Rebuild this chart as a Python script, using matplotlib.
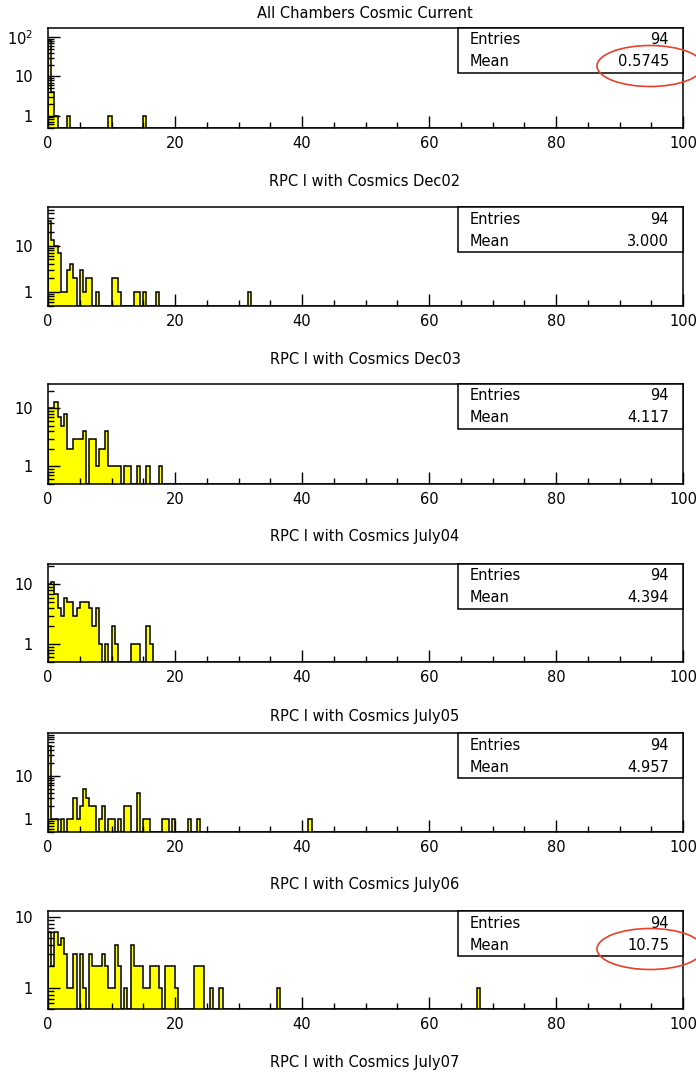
import matplotlib.pyplot as plt
import matplotlib.patches as mpatches
import matplotlib.ticker as mticker
import numpy as np

plt.rcParams['font.family'] = 'DejaVu Sans'
plt.rcParams['mathtext.default'] = 'regular'

# histogram binning: 200 bins of 0.5 from 0 to 100
bin_edges = np.arange(0, 100.5, 0.5)

main_title = 'All Chambers Cosmic Current'
run_labels = ['RPC I with Cosmics Dec02', 'RPC I with Cosmics Dec03',
              'RPC I with Cosmics July04', 'RPC I with Cosmics July05',
              'RPC I with Cosmics July06', 'RPC I with Cosmics July07']
entries = [94, 94, 94, 94, 94, 94]
means = ['0.5745', '3.000', '4.117', '4.394', '4.957', '10.75']
circled = [True, False, False, False, False, True]

# non-empty bins: {bin low edge: count}
dec02 = {0.0: 86, 0.5: 4, 1.0: 1, 3.0: 1, 9.5: 1, 15.0: 1}
dec03 = {0.0: 34, 0.5: 13, 1.0: 10, 1.5: 7, 2.0: 1, 2.5: 1, 3.0: 3, 3.5: 4,
         4.0: 2, 5.0: 3, 5.5: 1, 6.0: 2, 6.5: 2, 7.5: 1, 10.0: 2, 10.5: 2,
         11.0: 1, 13.5: 1, 14.0: 1, 15.0: 1, 17.0: 1, 31.5: 1}
july04 = {0.0: 10, 0.5: 10, 1.0: 13, 1.5: 7, 2.0: 5, 2.5: 8, 3.0: 2, 3.5: 2,
          4.0: 3, 4.5: 3, 5.0: 3, 5.5: 4, 6.5: 3, 7.0: 3, 7.5: 1, 8.0: 2,
          8.5: 2, 9.0: 4, 9.5: 1, 10.0: 1, 10.5: 1, 11.0: 1, 12.0: 1,
          12.5: 1, 14.0: 1, 15.5: 1, 17.5: 1}
july05 = {0.0: 10, 0.5: 11, 1.0: 7, 1.5: 4, 2.0: 3, 2.5: 6, 3.0: 5, 3.5: 5,
          4.0: 3, 4.5: 4, 5.0: 5, 5.5: 5, 6.0: 5, 6.5: 4, 7.0: 2, 7.5: 4,
          8.0: 1, 9.0: 1, 10.0: 2, 10.5: 1, 13.0: 1, 13.5: 1, 14.0: 1,
          15.5: 2, 16.0: 1}
july06 = {0.0: 49, 0.5: 1, 1.0: 1, 2.0: 1, 3.0: 1, 3.5: 1, 4.0: 3, 4.5: 1,
          5.0: 2, 5.5: 5, 6.0: 3, 6.5: 2, 7.0: 2, 8.0: 1, 8.5: 2, 9.5: 1,
          10.0: 1, 11.0: 1, 12.0: 2, 12.5: 2, 14.0: 4, 15.0: 1, 15.5: 1,
          18.0: 1, 18.5: 1, 19.5: 1, 22.0: 1, 23.5: 1, 41.0: 1}
july07 = {0.0: 6, 0.5: 2, 1.0: 6, 1.5: 4, 2.0: 5, 2.5: 3, 3.0: 1, 3.5: 1,
          4.0: 3, 5.0: 3, 5.5: 1, 6.5: 3, 7.0: 2, 7.5: 2, 8.0: 2, 8.5: 3,
          9.0: 2, 9.5: 1, 10.0: 1, 10.5: 4, 11.0: 2, 12.0: 1, 13.0: 4,
          13.5: 2, 14.0: 2, 14.5: 2, 15.0: 1, 15.5: 1, 16.0: 2, 16.5: 2,
          17.0: 2, 17.5: 1, 18.5: 2, 19.0: 2, 19.5: 2, 20.0: 1, 23.0: 2,
          23.5: 2, 24.0: 2, 25.5: 1, 27.0: 1, 36.0: 1, 67.5: 1}
datasets = [dec02, dec03, july04, july05, july06, july07]

W, H = 696, 1073
# frame top / bottom of every pad in pixels
frames = [(28, 127.5), (207, 305.7), (384, 484), (564, 662), (733, 832), (911, 1009)]
label_y = [181, 359, 537, 716, 884, 1063]
x_left, x_right = 48, 683

fig = plt.figure(figsize=(W / 100, H / 100), dpi=100)
fig.text(365 / W, 1 - 14 / H, main_title, ha='center', va='center', fontsize=10.5)

for k, data in enumerate(datasets):
    top, bot = frames[k]
    ax = fig.add_axes([x_left / W, 1 - bot / H, (x_right - x_left) / W, (bot - top) / H])

    counts = np.zeros(len(bin_edges) - 1)
    for lo, n in data.items():
        counts[int(round(lo * 2))] = n

    ymin = 0.5
    ymax = 2 * counts.max()
    vals = np.where(counts > 0, counts, ymin)
    ax.stairs(vals, bin_edges, baseline=ymin, fill=True, color='#ffff00', lw=0)
    ax.stairs(vals, bin_edges, baseline=ymin, color='black', lw=1.1)

    ax.set_yscale('log')
    ax.set_xlim(0, 100)
    ax.set_ylim(ymin, ymax)
    ax.xaxis.set_major_locator(mticker.MultipleLocator(20))
    ax.xaxis.set_minor_locator(mticker.MultipleLocator(5))
    ax.yaxis.set_major_locator(mticker.LogLocator(base=10))
    ax.yaxis.set_minor_locator(mticker.LogLocator(base=10, subs=np.arange(2, 10)))
    ax.yaxis.set_minor_formatter(mticker.NullFormatter())
    ax.yaxis.set_major_formatter(mticker.FuncFormatter(
        lambda v, p: {1: '1', 10: '10', 100: '$10^2$'}.get(int(round(v)), '')))
    ax.tick_params(which='both', direction='in', top=False, right=False,
                   labelsize=10.5, width=1, color='black')
    ax.tick_params(which='major', length=8.5)
    ax.tick_params(which='minor', length=4.3)
    ax.tick_params(axis='x', pad=6)
    ax.tick_params(axis='y', pad=11)
    for s in ax.spines.values():
        s.set_linewidth(1.1)

    # stats box
    hpx = bot - top
    box = mpatches.Rectangle(((458 - x_left) / (x_right - x_left), 1 - 45 / hpx),
                             (x_right - 458) / (x_right - x_left), 45 / hpx,
                             transform=ax.transAxes, facecolor='white',
                             edgecolor='black', lw=1.1, zorder=5, clip_on=False)
    ax.add_patch(box)
    xl = (470 - x_left) / (x_right - x_left)
    xr = (669 - x_left) / (x_right - x_left)
    for row, (name, val) in enumerate([('Entries', str(entries[k])), ('Mean', means[k])]):
        yy = 1 - (12 + 22 * row) / hpx
        ax.text(xl, yy, name, transform=ax.transAxes, ha='left', va='center',
                fontsize=10.5, zorder=6)
        ax.text(xr, yy, val, transform=ax.transAxes, ha='right', va='center',
                fontsize=10.5, zorder=6)

    fig.text(365 / W, 1 - label_y[k] / H, run_labels[k], ha='center', va='center',
             fontsize=10.5)

    if circled[k]:
        cy = top + 38
        ell = mpatches.Ellipse((650 / W, 1 - cy / H), 106 / W, 41 / H,
                               transform=fig.transFigure, fill=False,
                               edgecolor='#e8402a', lw=1.2, zorder=10)
        fig.add_artist(ell)

fig.savefig('out.png', dpi=100)
